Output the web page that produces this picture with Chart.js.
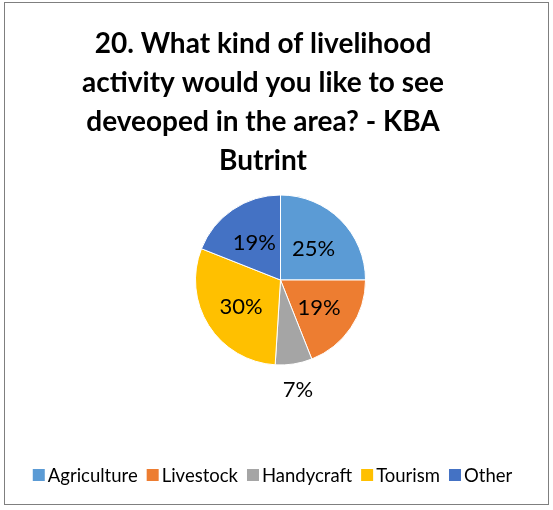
<!DOCTYPE html>
<html>
<head>
<meta charset="utf-8">
<script src="https://cdn.jsdelivr.net/npm/chart.js@4"></script>
<style>
    html, body { margin: 0; padding: 0; background: #fff; }
    #wrap { width: 553px; height: 510px; position: relative; }
</style>
</head>
<body>
<div id="wrap"><canvas id="livelihoodChart" width="553" height="510"></canvas></div>
<script>
var titleLines = ['20. What kind of livelihood', 'activity would you like to see', 'deveoped in the area? - KBA', 'Butrint'];
var categories = ['Agriculture', 'Livestock', 'Handycraft', 'Tourism', 'Other'];
var percents = [25, 19, 7, 30, 19];
var sliceColors = ['#5B9BD5', '#ED7D31', '#A5A5A5', '#FFC000', '#4472C4'];

var FONT = "Lato, 'Open Sans', sans-serif";

// outer frame around the whole chart
var framePlugin = {
    id: 'frame',
    afterDraw: function (chart) {
        var ctx = chart.ctx;
        ctx.save();
        ctx.strokeStyle = '#7f7f7f';
        ctx.lineWidth = 1;
        ctx.strokeRect(4.5, 2.5, 544, 502);
        ctx.restore();
    }
};

// title block sits a bit left of the pie, so it is drawn by hand
var titlePlugin = {
    id: 'titleBlock',
    afterDraw: function (chart) {
        var ctx = chart.ctx;
        ctx.save();
        ctx.font = 'bold 28px ' + FONT;
        ctx.fillStyle = '#000';
        ctx.textAlign = 'center';
        ctx.textBaseline = 'alphabetic';
        titleLines.forEach(function (line, i) {
            ctx.fillText(line, 263, 53 + i * 39);
        });
        ctx.restore();
    }
};

// percentage labels; small slices get their label outside the pie
var sliceLabels = {
    id: 'sliceLabels',
    afterDatasetsDraw: function (chart) {
        var ctx = chart.ctx;
        var meta = chart.getDatasetMeta(0);
        ctx.save();
        ctx.font = '22px ' + FONT;
        ctx.fillStyle = '#000';
        ctx.textAlign = 'center';
        ctx.textBaseline = 'middle';
        meta.data.forEach(function (arc, i) {
            var mid = (arc.startAngle + arc.endAngle) / 2;
            var outside = percents[i] < 10;
            var dist = outside ? arc.outerRadius + 26 : arc.outerRadius * 0.55;
            var x = arc.x + Math.cos(mid) * dist;
            var y = arc.y + Math.sin(mid) * dist + (outside ? 0 : 2);
            ctx.fillText(percents[i] + '%', x, y);
        });
        ctx.restore();
    }
};

// compact legend row: small square, tight gap, label
var bottomLegend = {
    id: 'bottomLegend',
    afterDraw: function (chart) {
        var ctx = chart.ctx;
        var box = 12, gap = 3, spacing = 9, y = 475;
        ctx.save();
        ctx.font = '18.5px ' + FONT;
        ctx.textBaseline = 'middle';
        ctx.textAlign = 'left';
        var widths = categories.map(function (c) { return ctx.measureText(c).width; });
        var total = widths.reduce(function (s, w) { return s + box + gap + w; }, 0) + spacing * (categories.length - 1);
        var x = (chart.width - total) / 2 - 4;
        categories.forEach(function (c, i) {
            ctx.fillStyle = sliceColors[i];
            ctx.fillRect(x, y - box / 2, box, box);
            ctx.fillStyle = '#000';
            ctx.fillText(c, x + box + gap, y + 1);
            x += box + gap + widths[i] + spacing;
        });
        ctx.restore();
    }
};

var ctx = document.getElementById('livelihoodChart').getContext('2d');
var chart = new Chart(ctx, {
    type: 'pie',
    data: {
        labels: categories,
        datasets: [{
            data: percents,
            backgroundColor: sliceColors,
            borderColor: '#ffffff',
            borderWidth: 1,
            radius: 85
        }]
    },
    options: {
        responsive: false,
        animation: false,
        layout: { padding: { left: 10, right: 2, top: 180, bottom: 130 } },
        plugins: {
            title: { display: false },
            legend: { display: false },
            tooltip: { enabled: false }
        }
    },
    plugins: [framePlugin, titlePlugin, sliceLabels, bottomLegend]
});
</script>
</body>
</html>
